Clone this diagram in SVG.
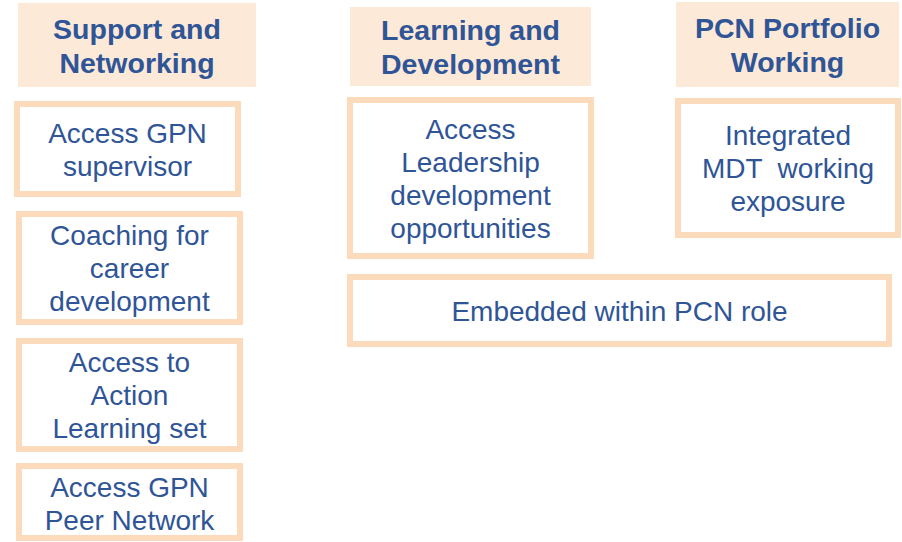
<svg xmlns="http://www.w3.org/2000/svg" width="902" height="542" viewBox="0 0 902 542">
<style>
.hdr{fill:#FCE9D8;stroke:none}
.box{fill:#FFFFFF;stroke:#FBDBBB;stroke-width:6}
.ht{font-family:"Liberation Sans",Arial,sans-serif;font-size:28.5px;font-weight:bold;fill:#2F5597;text-anchor:middle}
.bt{font-family:"Liberation Sans",Arial,sans-serif;font-size:28px;fill:#2F5597;text-anchor:middle;white-space:pre}
</style>
<rect width="902" height="542" fill="#FFFFFF"/>
<g id="connectors"></g>
<g id="h-support">
<rect class="hdr" x="18" y="3" width="238" height="84"/>
<text class="ht" x="137" y="39">Support and</text>
<text class="ht" x="137" y="73">Networking</text>
</g>
<g id="h-learning">
<rect class="hdr" x="350" y="7" width="241" height="79"/>
<text class="ht" x="470.5" y="40">Learning and</text>
<text class="ht" x="470.5" y="74">Development</text>
</g>
<g id="h-pcn">
<rect class="hdr" x="676" y="2" width="223" height="85"/>
<text class="ht" x="787.5" y="38">PCN Portfolio</text>
<text class="ht" x="787.5" y="72">Working</text>
</g>
<g id="n-supervisor">
<rect class="box" x="17" y="104" width="221" height="90"/>
<text class="bt" x="127.5" y="143">Access GPN</text>
<text class="bt" x="127.5" y="176">supervisor</text>
</g>
<g id="n-coaching">
<rect class="box" x="19" y="214" width="221" height="108"/>
<text class="bt" x="129.5" y="245">Coaching for</text>
<text class="bt" x="129.5" y="278">career</text>
<text class="bt" x="129.5" y="311">development</text>
</g>
<g id="n-action">
<rect class="box" x="19" y="341" width="221" height="108"/>
<text class="bt" x="129.5" y="372">Access to</text>
<text class="bt" x="129.5" y="405">Action</text>
<text class="bt" x="129.5" y="438">Learning set</text>
</g>
<g id="n-peer">
<rect class="box" x="19" y="466" width="221" height="72"/>
<text class="bt" x="129.5" y="497">Access GPN</text>
<text class="bt" x="129.5" y="530">Peer Network</text>
</g>
<g id="n-leadership">
<rect class="box" x="350" y="100" width="241" height="156"/>
<text class="bt" x="470.5" y="139">Access</text>
<text class="bt" x="470.5" y="172">Leadership</text>
<text class="bt" x="470.5" y="205">development</text>
<text class="bt" x="470.5" y="238">opportunities</text>
</g>
<g id="n-mdt">
<rect class="box" x="678" y="101" width="220" height="134"/>
<text class="bt" x="788" y="145">Integrated</text>
<text class="bt" x="788" y="178" xml:space="preserve">MDT  working</text>
<text class="bt" x="788" y="211">exposure</text>
</g>
<g id="n-embedded">
<rect class="box" x="350" y="277" width="539" height="67"/>
<text class="bt" x="619.5" y="321">Embedded within PCN role</text>
</g>
</svg>
